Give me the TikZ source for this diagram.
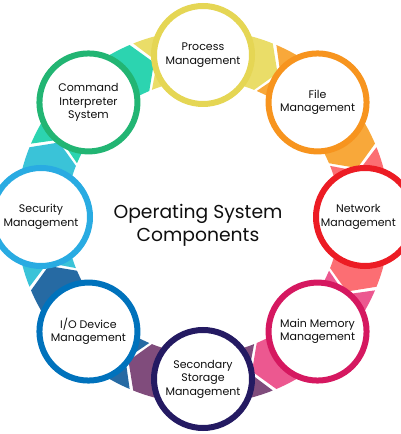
\documentclass[tikz,border=0pt]{standalone}
\usepackage{fontspec}
\setmainfont{Poppins}

\definecolor{procline}{RGB}{229,214,84}
\definecolor{procband}{RGB}{234,221,104}
\definecolor{fileline}{RGB}{247,148,30}
\definecolor{fileband}{RGB}{248,168,58}
\definecolor{netline}{RGB}{236,28,36}
\definecolor{netband}{RGB}{252,110,115}
\definecolor{memline}{RGB}{213,24,96}
\definecolor{memband}{RGB}{236,88,144}
\definecolor{storline}{RGB}{36,26,98}
\definecolor{storband}{RGB}{128,76,124}
\definecolor{ioline}{RGB}{0,114,188}
\definecolor{ioband}{RGB}{38,106,163}
\definecolor{secline}{RGB}{41,171,226}
\definecolor{secband}{RGB}{58,195,216}
\definecolor{cmdline}{RGB}{34,181,115}
\definecolor{cmdband}{RGB}{44,212,176}
\definecolor{labeltext}{RGB}{15,15,15}

\tikzset{
  comp/.style={circle,draw,line width=0.18cm,fill=white,minimum size=2.94cm,
    align=center,text=labeltext,font=\fontsize{9.4}{11.5}\selectfont}
}

\begin{document}
\begin{tikzpicture}
\useasboundingbox (0,0) rectangle (12,13.02);
\begin{scope}[shift={(6.09,6.51)}]
% arrow bands on the ring, clockwise
\foreach \a/\col in {90/procband,45/fileband,0/netband,-45/memband,
                     -90/storband,-135/ioband,180/secband,135/cmdband}
  \fill[\col] ({\a+21.9}:5.61) arc[start angle={\a+21.9},end angle={\a-21.9},radius=5.61]
    -- ({\a-27.4}:4.86) -- ({\a-21.9}:4.11)
    arc[start angle={\a-21.9},end angle={\a+21.9},radius=4.11]
    -- ({\a+16.4}:4.86) -- cycle;
% components
\node[comp,draw=procline] (proc) at (90:4.86) {Process\\Management};
\node[comp,draw=fileline] (file) at (45:4.86) {File\\Management};
\node[comp,draw=netline] (net) at (0:4.86) {};
\node[align=center,text=labeltext,font=\fontsize{9.4}{11.5}\selectfont] (nettext) at ([xshift=-0.2cm]net.center) {Network\\Management};
\node[comp,draw=memline] (mem) at (-45:4.86) {Main Memory\\Management};
\node[comp,draw=storline] (stor) at (-90:4.86) {Secondary\\Storage\\Management};
\node[comp,draw=ioline] (io) at (-135:4.86) {I/O Device\\Management};
\node[comp,draw=secline] (sec) at (180:4.86) {Security\\Management};
\node[comp,draw=cmdline] (cmd) at (135:4.86) {Command\\Interpreter\\System};
\node[align=center,text=labeltext,font=\fontsize{16}{20}\selectfont] (title) at (-0.15,-0.25) {Operating System\\Components};
\end{scope}
\end{tikzpicture}
\end{document}
